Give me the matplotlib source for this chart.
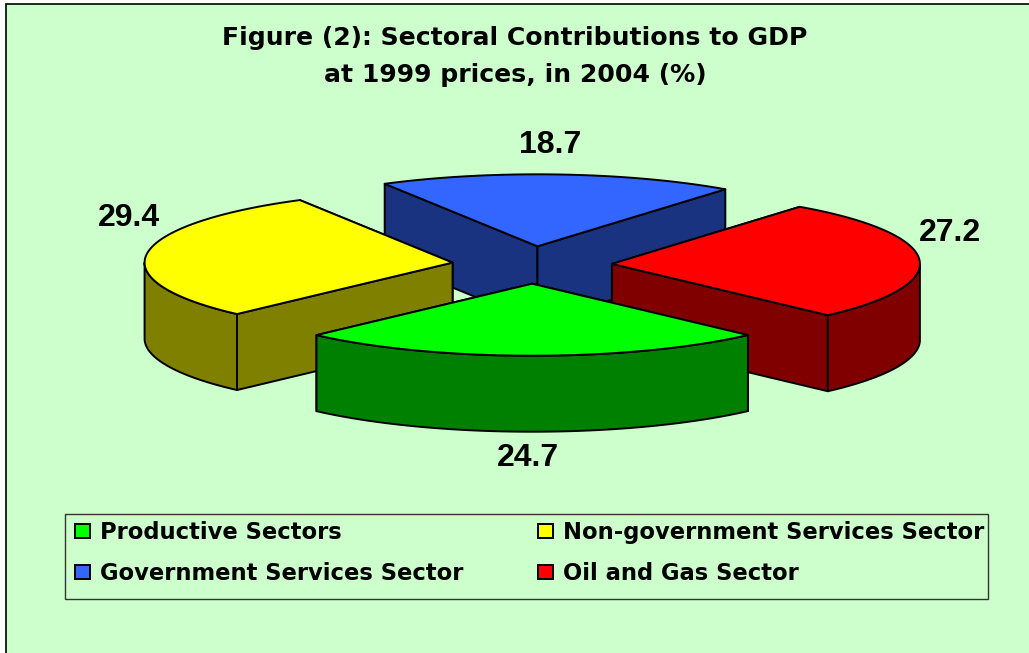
import numpy as np
import matplotlib
matplotlib.use('Agg')
import matplotlib.pyplot as plt
from matplotlib.patches import Polygon, Patch, Rectangle

plt.rcParams['font.family'] = ['Liberation Sans', 'DejaVu Sans']

sectors = ['Productive Sectors', 'Non-government Services Sector',
           'Government Services Sector', 'Oil and Gas Sector']
values = [24.7, 29.4, 18.7, 27.2]
top_colors = ['#00FF00', '#FFFF00', '#3366FF', '#FF0000']
side_colors = ['#008000', '#808000', '#1A3380', '#800000']

# layout of the fake 3d pie, in pixels
cx, cy = 532, 265
rx, ry = 308, 72
depth = 76
explode = 0.26
start = -44.5
label_pos = [(528, 458), (129, 218), (550, 145), (950, 233)]


def rim(t_deg):
    # t is measured clockwise from the front of the pie
    t = np.radians(t_deg)
    return -rx * np.sin(t), ry * np.cos(t)


def draw_slice(ax, t0, t1, top, side):
    mid = np.radians((t0 + t1) / 2)
    ox = cx - explode * rx * np.sin(mid)
    oy = cy + explode * ry * np.cos(mid)
    ts = np.linspace(t0, t1, 80)
    xs, ys = rim(ts)
    xs = xs + ox
    ys = ys + oy

    walls = []
    for x, y in [(xs[0], ys[0]), (xs[-1], ys[-1])]:
        walls.append([(ox, oy), (x, y), (x, y + depth), (ox, oy + depth)])
    walls.sort(key=lambda w: w[1][1])
    for w in walls:
        ax.add_patch(Polygon(w, fc=side, ec='black', lw=1.4, joinstyle='round'))

    # outer wall, only the part turned to the viewer
    front = np.cos(np.radians(ts)) > 0
    if front.any():
        fx = xs[front]
        fy = ys[front]
        pts = np.vstack([np.column_stack([fx, fy]),
                         np.column_stack([fx[::-1], fy[::-1] + depth])])
        ax.add_patch(Polygon(pts, fc=side, ec='black', lw=1.4, joinstyle='round'))

    pts = np.vstack([[ox, oy], np.column_stack([xs, ys])])
    ax.add_patch(Polygon(pts, fc=top, ec='black', lw=1.4, joinstyle='round'))


fig = plt.figure(figsize=(10.29, 6.53), dpi=100, facecolor='white')
ax = fig.add_axes([0, 0, 1, 1])
ax.set_xlim(0, 1029)
ax.set_ylim(653, 0)
ax.axis('off')

ax.add_patch(Rectangle((5.5, 3.5), 1100, 700, fc='#CCFFCC', ec='black', lw=1.2))

# the original letters are stretched wide, DejaVu bold is the closest width
ax.text(515, 38, 'Figure (2): Sectoral Contributions to GDP', ha='center', va='center',
        fontsize=18.1, fontweight='bold', family='DejaVu Sans')
ax.text(515, 75, 'at 1999 prices, in 2004 (%)', ha='center', va='center',
        fontsize=18.1, fontweight='bold', family='DejaVu Sans')

# slice angles come from the values, back slices are painted first
spans = np.array(values) * 3.6
edges = start + np.concatenate([[0], np.cumsum(spans)])
for i in [2, 1, 3, 0]:
    draw_slice(ax, edges[i], edges[i + 1], top_colors[i], side_colors[i])

for v, (x, y) in zip(values, label_pos):
    ax.text(x, y, f'{v:.1f}', ha='center', va='center', fontsize=23, fontweight='bold')

ax.add_patch(Rectangle((64.5, 513.5), 923.5, 85.5, fc='none', ec='#333333', lw=1.0))

# column first filling, so the order gives the two rows of the original
order = [0, 2, 1, 3]
handles = [Patch(fc=top_colors[i], ec='black', lw=1.4, label=sectors[i]) for i in order]
leg = ax.legend(handles=handles, ncol=2, loc='lower left',
                bbox_to_anchor=(75 / 1029, 1 - 585 / 653), borderaxespad=0,
                prop={'size': 16.3, 'weight': 'bold', 'family': 'DejaVu Sans'},
                frameon=False, handlelength=0.66, handleheight=0.58, handletextpad=0.45,
                labelspacing=0.8, columnspacing=3.28, borderpad=0)

fig.savefig('out.png', dpi=100)
